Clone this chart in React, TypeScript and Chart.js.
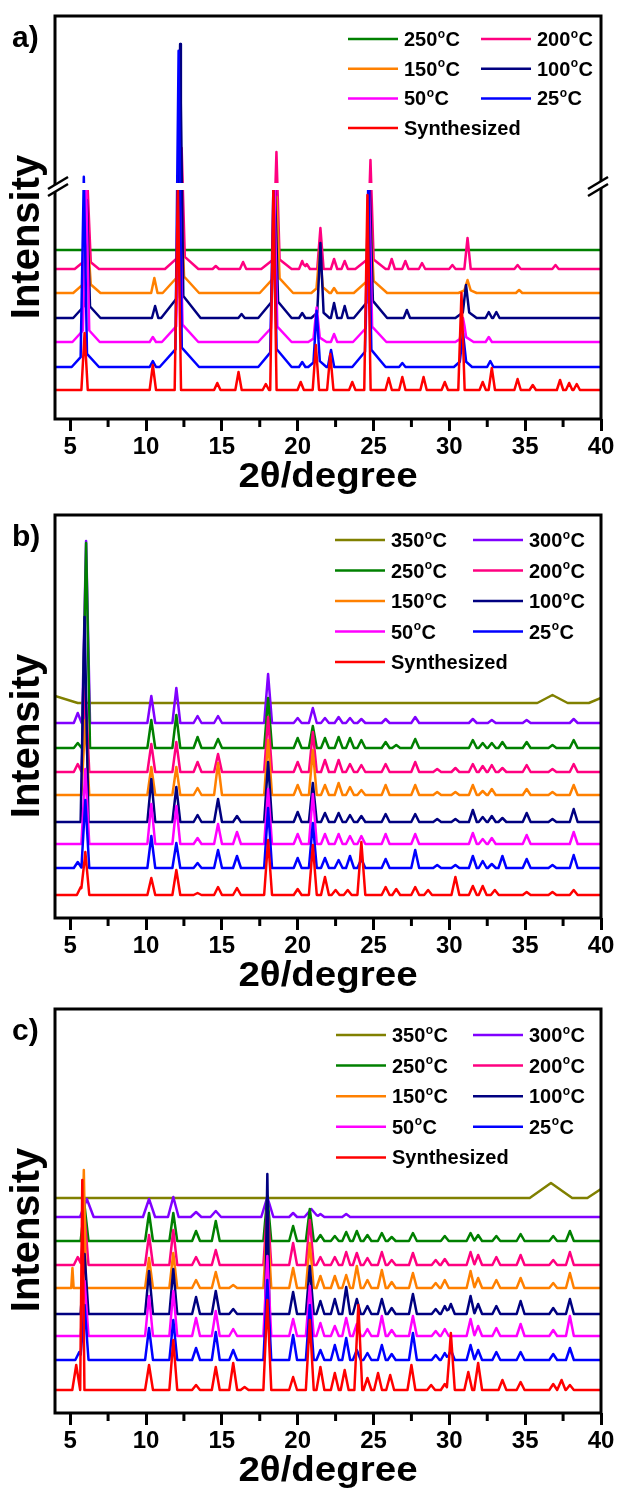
import React, { useEffect, useRef } from "react";
import { Chart, registerables } from "chart.js";
Chart.register(...registerables);

const FONT = '"Liberation Sans", Arial, Helvetica, sans-serif';
const X_MIN = 4;
const X_MAX = 40;
const X_TICKS = [5, 10, 15, 20, 25, 30, 35, 40];
const X_MINOR = [7.5, 12.5, 17.5, 22.5, 27.5, 32.5, 37.5];
const X_TITLE = "2θ/degree";
const Y_TITLE = "Intensity";

const COLORS: Record<string, string> = {
  "Synthesized": "#ff0000",
  "25°C": "#0000ff",
  "50°C": "#ff00ff",
  "100°C": "#000080",
  "150°C": "#ff8000",
  "200°C": "#ff0080",
  "250°C": "#008000",
  "300°C": "#8000ff",
  "350°C": "#808000",
};

// ---------- Panel a : [2θ, height, optional half-width] ----------
const A_LABELS = ["Synthesized", "25°C", "50°C", "100°C", "150°C", "200°C", "250°C"];
const A_LEGEND = ["250°C", "200°C", "150°C", "100°C", "50°C", "25°C", "Synthesized"];
const A_BASELINES = [29, 52, 77, 101, 126, 150, 169];
const A_SYNTH = [[5.95, 57], [10.45, 25], [12.1, 204], [14.7, 7], [16.1, 18], [17.9, 6], [18.4, 204], [20.2, 8], [21.2, 45], [22.15, 36], [23.6, 8], [24.6, 195], [26.0, 12], [26.9, 13], [28.3, 13], [29.7, 8], [30.8, 97], [32.2, 8], [32.8, 22], [34.5, 11], [35.5, 5], [37.3, 10], [37.9, 7], [38.4, 6]];
const A_25 = [[5.9, 177], [6.0, 15, 0.9], [10.45, 6], [12.15, 295], [12.2, 22, 1.3], [18.4, 161], [18.5, 20, 1.1], [20.3, 5], [21.25, 49], [21.3, 8, 0.6], [22.2, 17], [24.65, 161], [24.7, 20, 1.1], [26.9, 4], [30.9, 26], [30.9, 8, 0.6], [32.7, 6]];
const A_50 = [[6.05, 141], [6.05, 15, 0.9], [10.45, 5], [12.2, 136], [12.25, 20, 1.2], [18.45, 138], [18.5, 18, 1.1], [21.25, 29], [21.3, 6, 0.6], [22.4, 8], [24.7, 138], [24.75, 18, 1.1], [30.9, 19], [31.0, 6, 0.6], [32.6, 5]];
const A_100 = [[6.1, 103], [6.1, 15, 0.9], [10.6, 12], [12.25, 250], [12.3, 25, 1.3], [16.3, 4], [18.5, 112], [18.5, 20, 1.1], [20.3, 5], [21.5, 67], [21.5, 8, 0.6], [22.4, 15], [23.1, 12], [24.75, 112], [24.8, 20, 1.1], [27.2, 8], [31.1, 25], [31.1, 8, 0.7], [32.6, 6], [33.1, 6]];
const A_150 = [[6.15, 46], [6.1, 12, 0.9], [10.55, 15], [12.3, 78], [12.3, 20, 1.2], [18.6, 78], [18.6, 18, 1.1], [21.45, 35], [21.5, 8, 0.6], [22.4, 5], [24.8, 60], [24.8, 15, 1.1], [31.2, 9], [31.2, 4, 0.6], [34.6, 3]];
const A_200 = [[6.15, 73], [6.1, 10, 0.8], [12.35, 106], [12.35, 15, 1.1], [14.6, 3], [16.4, 7], [18.6, 105], [18.6, 12, 1.0], [20.3, 8], [20.6, 5], [21.5, 41], [22.4, 10], [23.1, 8], [24.8, 97], [24.8, 12, 1.0], [26.2, 10], [27.1, 8], [28.2, 6], [30.2, 4], [31.2, 31], [34.5, 4], [37.0, 4]];
const A_250 = [[12.3, 3], [18.5, 2], [24.8, 2]];
const A_PEAKS = [A_SYNTH, A_25, A_50, A_100, A_150, A_200, A_250];
const A_BREAK = [229, 236];

// ---------- Panel b ----------
const BC_LABELS = ["Synthesized", "25°C", "50°C", "100°C", "150°C", "200°C", "250°C", "300°C", "350°C"];
const BC_LEGEND = ["350°C", "300°C", "250°C", "200°C", "150°C", "100°C", "50°C", "25°C", "Synthesized"];
const B_BASELINES = [23, 50, 74, 96, 123, 146, 170, 195, 215];
const B_SYNTH = [[5.7, 8], [6.0, 43], [10.35, 17], [12.0, 25], [13.4, 2], [14.75, 8], [16.0, 7], [18.05, 55], [20.0, 6], [21.0, 50], [21.8, 18], [22.5, 5], [23.3, 5], [24.2, 53], [25.8, 8], [26.5, 6], [27.75, 8], [28.6, 5], [30.4, 18], [31.55, 9], [32.2, 9], [33.0, 5], [35.1, 3], [36.8, 3], [38.2, 5]];
const B_25 = [[5.5, 6], [6.0, 68], [10.35, 32], [12.0, 25], [13.4, 5], [14.75, 18], [16.0, 12], [18.05, 60], [20.0, 10], [21.0, 45], [21.8, 10], [22.7, 8], [23.45, 12], [24.2, 9], [25.8, 9], [27.75, 18], [29.2, 3], [30.4, 3], [31.55, 12], [32.2, 7], [32.8, 4], [33.5, 12], [35.1, 9], [36.8, 3], [38.2, 13]];
const B_50 = [[6.0, 75], [10.35, 40], [12.0, 38], [13.4, 6], [14.75, 20], [16.0, 12], [18.05, 55], [20.0, 10], [21.0, 50], [21.8, 10], [22.7, 10], [23.45, 8], [24.2, 8], [25.8, 10], [27.75, 10], [31.55, 11], [32.2, 5], [32.8, 6], [35.1, 9], [38.2, 12]];
const B_100 = [[5.95, 205], [10.35, 43], [12.0, 35], [13.4, 7], [14.75, 23], [16.0, 6], [18.05, 60], [20.0, 10], [21.0, 39], [21.8, 9], [22.7, 9], [23.45, 7], [24.2, 6], [25.8, 8], [27.75, 8], [29.2, 3], [30.4, 3], [31.55, 12], [32.2, 5], [32.8, 6], [33.5, 4], [35.1, 9], [36.8, 3], [38.2, 13]];
const B_150 = [[6.0, 75], [10.35, 28], [12.0, 28], [13.4, 7], [14.75, 32], [18.05, 55], [20.0, 10], [21.0, 45], [21.8, 10], [22.7, 12], [23.45, 8], [24.2, 5], [25.8, 10], [27.75, 10], [29.2, 3], [30.4, 3], [31.55, 10], [32.2, 4], [32.8, 6], [35.1, 6], [36.8, 3], [38.2, 10]];
const B_200 = [[5.5, 8], [6.0, 85], [10.35, 28], [12.0, 30], [13.4, 10], [14.75, 18], [18.05, 55], [20.0, 10], [21.0, 40], [21.8, 12], [22.7, 12], [23.45, 8], [24.2, 7], [25.8, 8], [27.75, 10], [29.2, 3], [30.4, 4], [31.55, 8], [32.2, 6], [32.8, 7], [33.5, 4], [35.1, 7], [36.8, 3], [38.2, 8]];
const B_250 = [[5.5, 5], [6.05, 205], [10.35, 28], [12.0, 33], [13.4, 11], [14.75, 9], [18.05, 50], [20.0, 10], [21.0, 22], [21.8, 10], [22.7, 11], [23.45, 10], [24.2, 8], [25.8, 6], [26.5, 3], [27.75, 9], [31.55, 8], [32.2, 5], [32.8, 5], [33.5, 6], [35.1, 6], [36.8, 3], [38.2, 8]];
const B_300 = [[5.5, 10], [6.05, 182], [10.35, 27], [12.0, 35], [13.4, 7], [14.75, 7], [18.05, 49], [20.0, 5], [21.0, 15], [21.8, 5], [22.7, 6], [23.45, 5], [24.2, 4], [25.8, 4], [27.75, 6], [31.55, 4], [32.8, 3], [35.1, 3], [38.2, 4]];
const B_350 = [[4.0, 7, 1.5], [36.8, 8, 1.0], [40.0, 5, 0.8]];
const B_PEAKS = [B_SYNTH, B_25, B_50, B_100, B_150, B_200, B_250, B_300, B_350];

// ---------- Panel c ----------
const C_BASELINES = [23, 53, 77, 99, 125, 148, 172, 196, 215];
const C_SYNTH = [[5.4, 25], [5.8, 210, 0.14], [10.2, 25], [11.8, 50], [13.3, 5], [14.6, 23], [15.75, 27], [16.5, 3], [18.0, 90], [19.7, 13], [20.8, 70], [21.5, 23], [22.45, 17], [23.1, 20], [24.0, 85], [24.6, 12], [25.3, 17], [26.1, 15], [27.5, 25], [28.8, 5], [29.7, 6], [30.1, 57], [31.25, 18], [31.9, 27], [33.5, 10], [34.7, 8], [36.85, 6], [37.4, 10], [37.95, 5]];
const C_25 = [[5.6, 8], [5.95, 55], [10.2, 32], [11.8, 40], [13.3, 12], [14.6, 28], [15.75, 10], [18.0, 80], [19.7, 25], [20.8, 55], [21.5, 10], [22.45, 15], [23.2, 22], [23.9, 10], [24.6, 7], [25.55, 15], [26.2, 6], [27.6, 27], [29.1, 5], [29.7, 7], [30.1, 10], [31.4, 15], [31.9, 10], [33.1, 8], [34.7, 8], [36.85, 6], [37.95, 12]];
const C_50 = [[5.95, 55], [10.2, 40], [11.8, 45], [13.3, 18], [14.6, 25], [15.75, 7], [18.0, 80], [19.7, 17], [20.8, 50], [21.5, 13], [22.45, 10], [23.2, 18], [23.9, 12], [24.6, 7], [25.55, 20], [26.2, 6], [27.6, 20], [29.1, 5], [29.7, 7], [31.4, 17], [31.9, 10], [33.1, 8], [34.7, 12], [36.85, 6], [37.95, 20]];
const C_100 = [[5.95, 60], [10.2, 43], [11.8, 45], [13.3, 17], [14.6, 23], [15.75, 5], [18.0, 140, 0.14], [19.7, 22], [20.8, 48], [21.5, 13], [22.45, 15], [23.2, 27], [23.9, 15], [24.6, 8], [25.55, 15], [26.2, 6], [27.6, 20], [29.1, 5], [29.7, 8], [30.1, 10], [31.4, 18], [31.9, 10], [33.1, 8], [34.7, 13], [36.85, 6], [37.95, 15]];
const C_150 = [[5.15, 20, 0.08], [5.9, 118, 0.14], [10.2, 30], [11.8, 35], [13.3, 8], [14.6, 16], [15.75, 3], [18.0, 70], [19.7, 20], [20.8, 45], [21.5, 12], [22.45, 12], [23.2, 13], [23.9, 22], [24.6, 8], [25.55, 18], [26.2, 6], [27.6, 15], [29.1, 5], [29.7, 8], [31.4, 17], [31.9, 10], [33.1, 8], [34.7, 10], [36.85, 5], [37.95, 15]];
const C_200 = [[5.5, 8], [5.95, 50], [10.2, 30], [11.8, 35], [13.3, 8], [14.6, 15], [18.0, 60], [19.7, 22], [20.8, 45], [21.5, 8], [22.45, 8], [23.2, 13], [23.9, 12], [24.6, 7], [25.55, 13], [26.2, 5], [27.6, 12], [29.1, 5], [29.7, 6], [31.4, 13], [31.9, 10], [33.1, 8], [34.7, 10], [36.85, 5], [37.95, 13]];
const C_250 = [[5.95, 35], [10.2, 28], [11.8, 28], [13.3, 10], [14.6, 20], [18.0, 45], [19.7, 15], [20.8, 32], [21.5, 6], [22.45, 5], [23.2, 9], [23.9, 10], [24.6, 6], [25.55, 8], [26.2, 4], [27.6, 8], [29.7, 5], [31.4, 8], [31.9, 6], [33.1, 5], [34.7, 7], [36.85, 5], [37.95, 10]];
const C_300 = [[6.1, 18, 0.45], [10.2, 18, 0.4], [11.8, 20, 0.35], [13.3, 5, 0.35], [14.6, 6, 0.35], [18.0, 20, 0.4], [19.7, 4], [20.9, 8, 0.45], [21.5, 3], [23.2, 3]];
const C_350 = [[36.7, 15, 1.4], [40.0, 9, 0.9]];
const C_PEAKS = [C_SYNTH, C_25, C_50, C_100, C_150, C_200, C_250, C_300, C_350];

type Peak = number[];

function buildPoints(base: number, peaks: Peak[], w0: number) {
  const xs = new Set<number>([X_MIN, X_MAX]);
  for (const pk of peaks) {
    const w = pk[2] ?? w0;
    xs.add(pk[0] - w); xs.add(pk[0]); xs.add(pk[0] + w);
  }
  const arr = [...xs].filter((v) => v >= X_MIN && v <= X_MAX).sort((a, b) => a - b);
  return arr.map((x) => ({
    x,
    y: base + peaks.reduce((s, pk) => {
      const w = pk[2] ?? w0;
      return s + Math.max(0, pk[1] * (1 - Math.abs(x - pk[0]) / w));
    }, 0),
  }));
}

interface PanelCfg {
  top: number; height: number; chartBottom: number; yMax: number; letter: string;
  labels: string[]; baselines: number[]; peaks: Peak[][]; width: number;
  legend: string[]; legendTop: number; legendGap: number; col1: number; col2: number;
  breakRange?: number[];
}

const PANELS: PanelCfg[] = [
  { top: 0, height: 500, chartBottom: 419, yMax: 403, letter: "a)", labels: A_LABELS, baselines: A_BASELINES, peaks: A_PEAKS, width: 0.21, legend: A_LEGEND, legendTop: 39, legendGap: 29.7, col1: 348, col2: 481, breakRange: A_BREAK },
  { top: 499, height: 500, chartBottom: 419, yMax: 403, letter: "b)", labels: BC_LABELS, baselines: B_BASELINES, peaks: B_PEAKS, width: 0.26, legend: BC_LEGEND, legendTop: 41, legendGap: 30.5, col1: 335, col2: 473 },
  { top: 993, height: 500, chartBottom: 420, yMax: 404, letter: "c)", labels: BC_LABELS, baselines: C_BASELINES, peaks: C_PEAKS, width: 0.26, legend: BC_LEGEND, legendTop: 42, legendGap: 30.6, col1: 336, col2: 473 },
];

function drawDegreeLabel(ctx: CanvasRenderingContext2D, label: string, x: number, y: number) {
  const base = y + 7;
  ctx.fillStyle = "#000";
  ctx.textBaseline = "alphabetic";
  ctx.textAlign = "left";
  const big = `bold 20px ${FONT}`;
  const small = `bold 12px ${FONT}`;
  const idx = label.indexOf("°");
  ctx.font = big;
  if (idx < 0) { ctx.fillText(label, x, base); return; }
  const num = label.slice(0, idx);
  const rest = label.slice(idx + 1);
  ctx.fillText(num, x, base);
  let cx = x + ctx.measureText(num).width + 0.5;
  ctx.font = small;
  ctx.fillText("o", cx, base - 8.5);
  cx += ctx.measureText("o").width + 0.3;
  ctx.font = big;
  ctx.fillText(rest, cx, base);
}

const decorPlugin = {
  id: "decor",
  afterDatasetsDraw(chart: any, _args: any, opts: any) {
    const { ctx, chartArea: ca, scales } = chart;
    const xs = scales.x;
    const ys = scales.y;
    const cfg: PanelCfg = opts.cfg;
    ctx.save();
    let gapTop = 0, gapBot = 0;
    if (cfg.breakRange) {
      gapTop = ys.getPixelForValue(cfg.breakRange[1]);
      gapBot = ys.getPixelForValue(cfg.breakRange[0]);
      ctx.fillStyle = "#fff";
      ctx.fillRect(ca.left + 2, gapTop, ca.right - ca.left - 4, gapBot - gapTop);
    }
    ctx.strokeStyle = "#000";
    ctx.lineWidth = 3;
    ctx.strokeRect(ca.left, ca.top, ca.right - ca.left, ca.bottom - ca.top);
    for (const v of X_MINOR) {
      const px = xs.getPixelForValue(v);
      ctx.beginPath();
      ctx.moveTo(px, ca.bottom);
      ctx.lineTo(px, ca.bottom + 8);
      ctx.stroke();
    }
    if (cfg.breakRange) {
      const cy = (gapTop + gapBot) / 2;
      for (const ax of [ca.left + 3, ca.right - 3]) {
        const dx = 10, dy = 6, d = 3.5;
        ctx.fillStyle = "#fff";
        ctx.beginPath();
        ctx.moveTo(ax - dx, cy - d + dy);
        ctx.lineTo(ax + dx, cy - d - dy);
        ctx.lineTo(ax + dx, cy + d - dy);
        ctx.lineTo(ax - dx, cy + d + dy);
        ctx.closePath();
        ctx.fill();
        ctx.strokeStyle = "#000";
        ctx.lineWidth = 2.5;
        for (const s of [-d, d]) {
          ctx.beginPath();
          ctx.moveTo(ax - dx, cy + s + dy);
          ctx.lineTo(ax + dx, cy + s - dy);
          ctx.stroke();
        }
      }
    }
    cfg.legend.forEach((lab, i) => {
      const col = i % 2;
      const row = Math.floor(i / 2);
      const yy = cfg.legendTop + row * cfg.legendGap;
      const x0 = col === 0 ? cfg.col1 : cfg.col2;
      ctx.strokeStyle = COLORS[lab];
      ctx.lineWidth = 2.5;
      ctx.beginPath();
      ctx.moveTo(x0, yy);
      ctx.lineTo(x0 + 50, yy);
      ctx.stroke();
      drawDegreeLabel(ctx, lab, x0 + 56, yy);
    });
    ctx.fillStyle = "#000";
    ctx.font = `bold 30px ${FONT}`;
    ctx.textAlign = "left";
    ctx.textBaseline = "alphabetic";
    ctx.fillText(cfg.letter, 12, 47);
    ctx.save();
    ctx.translate(28, 237);
    ctx.rotate(-Math.PI / 2);
    ctx.font = `bold 40px ${FONT}`;
    ctx.textAlign = "center";
    ctx.textBaseline = "middle";
    ctx.fillText(Y_TITLE, 0, 0);
    ctx.restore();
    ctx.save();
    ctx.translate((ca.left + ca.right) / 2, ca.bottom + 68);
    ctx.scale(1.1, 1);
    ctx.font = `bold 35px ${FONT}`;
    ctx.textAlign = "center";
    ctx.textBaseline = "alphabetic";
    ctx.fillText(X_TITLE, 0, 0);
    ctx.restore();
    ctx.restore();
  },
};

function Panel({ cfg }: { cfg: PanelCfg }) {
  const ref = useRef<HTMLCanvasElement | null>(null);
  useEffect(() => {
    if (!ref.current) return;
    const datasets = cfg.labels.map((lab, i) => ({
      label: lab,
      data: buildPoints(cfg.baselines[i], cfg.peaks[i], cfg.width),
      borderColor: COLORS[lab],
      borderWidth: 2.5,
      borderJoinStyle: "round",
      pointRadius: 0,
      fill: false,
      tension: 0,
    }));
    const chart = new Chart(ref.current, {
      type: "line",
      data: { datasets },
      options: {
        responsive: false,
        animation: false,
        devicePixelRatio: 1,
        events: [],
        layout: { padding: { left: 55, right: 18, top: 16, bottom: 0 } },
        plugins: {
          legend: { display: false },
          tooltip: { enabled: false },
          decor: { cfg },
        } as any,
        scales: {
          x: {
            type: "linear",
            min: X_MIN,
            max: X_MAX,
            border: { display: false },
            grid: { drawOnChartArea: false, drawTicks: true, tickLength: 12, tickWidth: 3, tickColor: "#000" },
            ticks: { font: { family: FONT, size: 24, weight: "bold" }, color: "#000", padding: 2, maxRotation: 0, autoSkip: false },
            afterBuildTicks: (s: any) => { s.ticks = X_TICKS.map((v) => ({ value: v })); },
            afterFit: (s: any) => { s.height = cfg.height - cfg.chartBottom; },
          },
          y: { type: "linear", display: false, min: 0, max: cfg.yMax },
        },
      } as any,
      plugins: [decorPlugin as any],
    });
    return () => chart.destroy();
  }, [cfg]);
  return (
    <canvas
      ref={ref}
      width={619}
      height={cfg.height}
      style={{ position: "absolute", left: 0, top: cfg.top, width: 619, height: cfg.height }}
    />
  );
}

export default function App() {
  return (
    <div style={{ position: "absolute", left: 0, top: 0, width: 619, height: 1493, background: "#fff" }}>
      {PANELS.map((p) => (
        <Panel key={p.letter} cfg={p} />
      ))}
    </div>
  );
}
